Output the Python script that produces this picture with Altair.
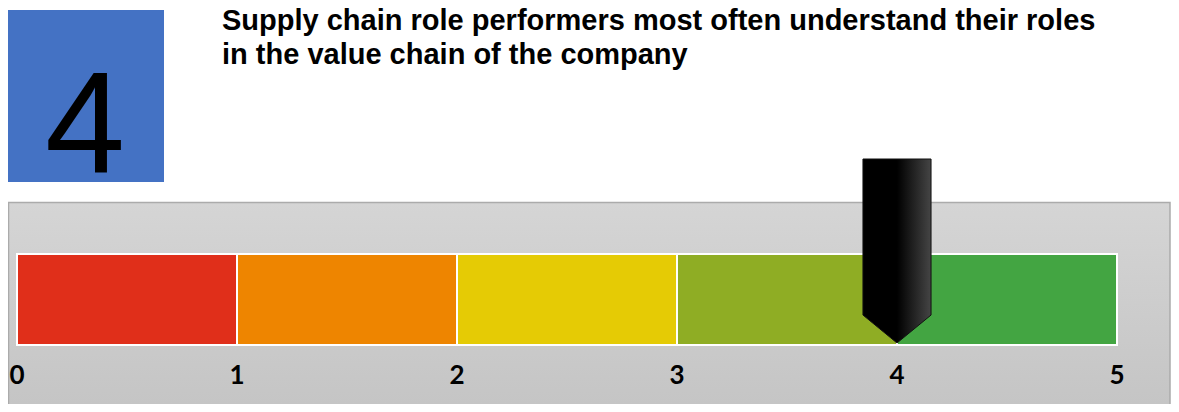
import altair as alt
import pandas as pd

# data
segment_start = [0, 1, 2, 3, 4]
segment_end = [1, 2, 3, 4, 5]
segment_color = ["#E02F1A", "#EE8500", "#E5CB05", "#8FAD24", "#43A542"]
tick_values = [0, 1, 2, 3, 4, 5]
tick_labels = ["0", "1", "2", "3", "4", "5"]
score = [4]
score_label = ["4"]
title_lines = ["Supply chain role performers most often understand their roles",
               "in the value chain of the company"]
title_rows = [0, 1]

W, H = 1163, 396
xscale = alt.Scale(domain=[0, 5], range=[9, 1109], nice=False, zero=False)

seg_df = pd.DataFrame({"start": segment_start, "end": segment_end, "color": segment_color})
tick_df = pd.DataFrame({"v": tick_values, "label": tick_labels})
score_df = pd.DataFrame({"score": score, "label": score_label})
title_df = pd.DataFrame({"line": title_lines, "row": title_rows})

base_dummy = pd.DataFrame({"a": [0]})

panel = alt.Chart(base_dummy).mark_rect(
    fill={"gradient": "linear", "x1": 0, "y1": 0, "x2": 0, "y2": 1,
          "stops": [{"offset": 0, "color": "#D5D5D5"}, {"offset": 1, "color": "#C3C3C3"}]},
    stroke="#ABABAB", strokeWidth=1.5,
).encode(x=alt.value(0.5), x2=alt.value(1162), y=alt.value(194.5), y2=alt.value(420))

blue = alt.Chart(score_df).mark_rect(fill="#4472C4").encode(
    x=alt.value(0), x2=alt.value(156), y=alt.value(2), y2=alt.value(174))

big = alt.Chart(score_df).mark_text(
    font="Liberation Sans", fontSize=144, color="#000000", align="center", baseline="alphabetic"
).encode(text="label:N", x=alt.value(77), y=alt.value(165))

title = alt.Chart(title_df).mark_text(
    font="Liberation Sans", fontWeight="bold", fontSize=29, color="#000000",
    align="left", baseline="alphabetic"
).encode(text="line:N", x=alt.value(214),
         y=alt.Y("row:Q", scale=alt.Scale(domain=[0, 1], range=[21.5, 56]), axis=None))

bars = alt.Chart(seg_df).mark_rect(stroke="#FFFFFF", strokeWidth=2).encode(
    x=alt.X("start:Q", scale=xscale, axis=None),
    x2="end:Q",
    y=alt.value(246), y2=alt.value(337),
    fill=alt.Fill("color:N", scale=None),
)

labels = alt.Chart(tick_df).mark_text(
    font="Lato", fontWeight="bold", fontSize=26, color="#000000", align="center", baseline="alphabetic"
).encode(text="label:N", x=alt.X("v:Q", scale=xscale, axis=None), y=alt.value(376))

pointer = alt.Chart(score_df).mark_point(
    shape="M-0.37,-1L0.37,-1L0.37,0.696L0,1L-0.37,0.696Z",
    size=184 * 184, filled=True, opacity=1,
    fill={"gradient": "linear", "x1": 0, "y1": 0, "x2": 1, "y2": 0,
          "stops": [{"offset": 0, "color": "#000000"}, {"offset": 0.5, "color": "#000000"},
                    {"offset": 1, "color": "#454545"}]},
    stroke="#111111", strokeWidth=1,
).encode(x=alt.X("score:Q", scale=xscale, axis=None), y=alt.value(243))

chart = alt.layer(panel, blue, big, title, bars, labels, pointer).properties(
    width=W, height=H, padding=0, background="#FFFFFF",
    autosize=alt.AutoSizeParams(type="none")
).configure_view(strokeWidth=0, stroke="transparent", clip=False)

chart.save("out.html", embed_options={"renderer": "svg", "actions": False})
